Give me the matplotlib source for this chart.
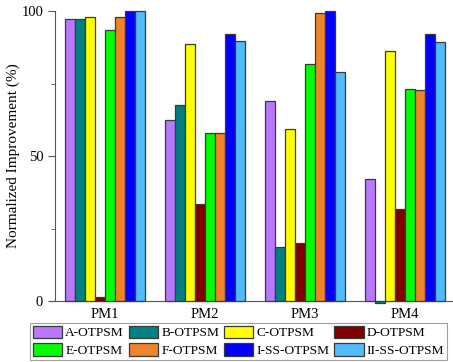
import matplotlib.pyplot as plt
import numpy as np

plt.rcParams['font.family'] = ['Liberation Serif', 'DejaVu Serif']

groups = ['PM1', 'PM2', 'PM3', 'PM4']
methods = ['A-OTPSM', 'B-OTPSM', 'C-OTPSM', 'D-OTPSM',
           'E-OTPSM', 'F-OTPSM', 'I-SS-OTPSM', 'II-SS-OTPSM']
colors = ['#B877FF', '#008080', '#FFFF00', '#800000',
          '#00FF00', '#F08428', '#0000FF', '#50BBFF']

# values per method, one entry per PM
a_otpsm = [97.2, 62.4, 69.1, 42.0]
b_otpsm = [97.4, 67.6, 18.5, -0.7]
c_otpsm = [98.1, 88.6, 59.2, 86.3]
d_otpsm = [1.3, 33.4, 19.9, 31.7]
e_otpsm = [93.3, 57.8, 81.7, 73.2]
f_otpsm = [97.9, 57.8, 99.2, 72.8]
i_ss_otpsm = [100.0, 92.1, 100.0, 92.0]
ii_ss_otpsm = [100.0, 89.8, 78.9, 89.4]
series = [a_otpsm, b_otpsm, c_otpsm, d_otpsm,
          e_otpsm, f_otpsm, i_ss_otpsm, ii_ss_otpsm]

fig = plt.figure(figsize=(4.53, 3.62), dpi=100)
ax = fig.add_axes([55 / 453, 61 / 362, 400 / 453, 290 / 362])

x = np.arange(len(groups))
w = 0.1
bars = []
for k, (vals, col, name) in enumerate(zip(series, colors, methods)):
    b = ax.bar(x + (k - 3.5) * w, vals, w, color=col, edgecolor='#3a3a3a',
               linewidth=0.9, label=name, clip_on=False, zorder=3)
    bars.append(b)

ax.set_xlim(-0.5, 3.5)
ax.set_ylim(0, 100)
ax.set_xticks(x)
ax.set_xticklabels(groups, fontsize=10.5)
ax.tick_params(axis='x', length=0, pad=5)
ax.set_yticks([0, 50, 100])
ax.set_yticks([25, 75], minor=True)
ax.tick_params(axis='y', which='major', length=5, labelsize=10.5, color='#555555')
ax.tick_params(axis='y', which='minor', length=3, color='#555555')
ax.set_ylabel('Normalized Improvement (%)', fontsize=11, labelpad=1)

for s in ['top', 'right']:
    ax.spines[s].set_visible(False)
ax.spines['left'].set_color('#555555')
ax.spines['bottom'].set_color('#555555')
ax.spines['bottom'].set_bounds(-0.55, 3.5)

# legend rows: A B C D / E F I II (matplotlib fills column by column)
order = [0, 4, 1, 5, 2, 6, 3, 7]
leg = fig.legend([bars[i] for i in order], [methods[i] for i in order],
                 ncol=4, loc='upper left', bbox_to_anchor=(30 / 453, 1 - 323 / 362),
                 fontsize=9.6, handlelength=2.2, handleheight=1.05,
                 handletextpad=0.25, columnspacing=0.35, labelspacing=0.3,
                 borderpad=0.2, borderaxespad=0, fancybox=False, frameon=True)
leg.get_frame().set_edgecolor('#888888')
leg.get_frame().set_linewidth(0.8)

fig.savefig('out.png', dpi=100)
